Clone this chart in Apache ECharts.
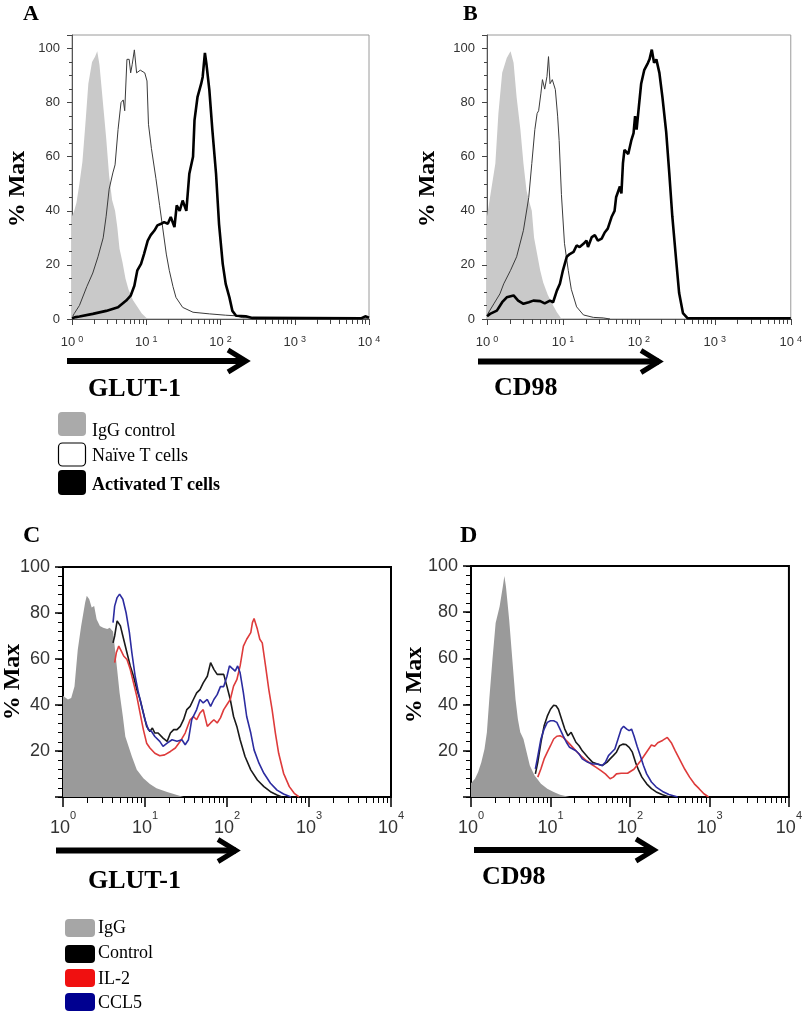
<!DOCTYPE html>
<html>
<head>
<meta charset="utf-8">
<script src="https://cdn.jsdelivr.net/npm/echarts@6/dist/echarts.min.js"></script>
<style>html,body{margin:0;padding:0;background:#fff}#main{width:805px;height:1012px}</style>
</head>
<body>
<div id="main"></div>
<script>
// x values are in decades (log10 of fluorescence), y values in % Max
var decadeExponents = ['0', '1', '2', '3', '4'];

// panel A: GLUT-1
var aIgG = [[0,38],[0.03,40],[0.06,43],[0.10,50],[0.14,58],[0.18,72],[0.22,87],[0.27,95],[0.31,97],[0.34,99],[0.37,94],[0.41,82],[0.46,67],[0.50,53],[0.54,44],[0.58,40],[0.61,34],[0.64,26],[0.68,21],[0.72,15],[0.76,11],[0.82,7],[0.88,4.5],[0.94,2],[1.0,0.5],[1.03,0]];
var aNaive = [[0.01,1],[0.03,2],[0.10,5],[0.20,12],[0.28,17],[0.35,23],[0.42,30],[0.46,38],[0.50,48],[0.55,54],[0.58,57],[0.62,70],[0.66,80],[0.69,81],[0.71,77],[0.74,96],[0.77,96],[0.79,91],[0.81,94],[0.84,99.5],[0.86,99],[0.87,91],[0.92,92],[0.98,91],[1.01,88],[1.03,72],[1.07,63],[1.13,52],[1.18,42],[1.22,34],[1.27,24],[1.31,18],[1.36,12],[1.40,8],[1.49,4.3],[1.63,2.5],[1.85,1.9],[2.07,1.4],[2.20,1.2],[2.30,0.5],[2.6,0.3],[4.0,0.3]];
var aActivated = [[0.0,0.3],[0.05,0.7],[0.10,0.9],[0.28,1.9],[0.46,3],[0.62,4.3],[0.73,6.8],[0.79,8.6],[0.84,12.3],[0.88,18],[0.93,20.4],[0.97,24],[1.02,29],[1.06,31],[1.11,32.7],[1.15,34.6],[1.20,35.2],[1.24,35.8],[1.29,35.2],[1.33,37.7],[1.38,34],[1.41,42],[1.45,40],[1.49,43.8],[1.54,40],[1.58,53.7],[1.63,60],[1.65,73.5],[1.69,82],[1.74,87],[1.76,89.5],[1.79,98.4],[1.81,94.4],[1.85,84.6],[1.89,70],[1.94,53.7],[1.98,35.2],[2.03,20.4],[2.07,13],[2.12,8],[2.16,3],[2.21,1.2],[2.34,1],[2.43,0.4],[3.9,0.3],[3.95,1],[4.0,0.5]];

// panel B: CD98
var bIgG = [[0,38],[0.04,45],[0.11,57.5],[0.15,76],[0.20,91],[0.26,96.5],[0.31,99],[0.35,94.7],[0.39,82],[0.44,70],[0.48,57.5],[0.52,47.6],[0.55,44],[0.59,40],[0.62,30],[0.66,24],[0.70,18],[0.74,13.5],[0.80,9],[0.86,5.5],[0.92,2.5],[0.96,0.9],[0.98,0]];
var bNaive = [[0.01,1.9],[0.09,5.6],[0.17,9.3],[0.22,13],[0.31,18],[0.39,23],[0.48,32.8],[0.55,45],[0.59,57.5],[0.63,70],[0.66,76],[0.68,77],[0.71,83.5],[0.73,88.5],[0.76,85],[0.79,89.7],[0.81,97],[0.83,87],[0.86,88.5],[0.90,84.8],[0.93,75],[0.95,66],[0.98,46],[1.02,28],[1.07,18],[1.11,11],[1.18,4.5],[1.27,1.5],[1.40,0.6],[1.53,0.4],[1.62,0]];
var bActivated = [[0.0,1],[0.04,1.9],[0.13,3.1],[0.20,6.2],[0.26,8],[0.35,8.7],[0.41,6.8],[0.48,5.6],[0.55,6.2],[0.61,6.8],[0.70,6.6],[0.76,5.8],[0.83,6.8],[0.87,6.2],[0.92,10.5],[0.96,13],[1.00,18],[1.05,23],[1.09,24],[1.14,24.8],[1.18,27.2],[1.22,26.6],[1.27,27.8],[1.31,29],[1.33,26.6],[1.38,30.3],[1.42,31],[1.46,29],[1.51,29.7],[1.55,32],[1.59,33.4],[1.64,37.7],[1.68,40],[1.70,45],[1.75,49],[1.77,46.4],[1.79,57.5],[1.81,62.5],[1.86,61],[1.90,66],[1.93,68.7],[1.95,75],[1.97,70],[2.00,78.6],[2.03,87],[2.07,92],[2.12,94.7],[2.14,96],[2.17,99.6],[2.20,94.7],[2.23,96],[2.27,91],[2.31,82],[2.36,69],[2.40,54],[2.44,38],[2.49,22],[2.53,9.6],[2.58,2.2],[2.64,0.3],[4.0,0.3]];

// panel C: GLUT-1 after treatment
var cIgG = [[0,44],[0.02,43.8],[0.06,42.4],[0.10,43],[0.14,48],[0.18,64],[0.22,74],[0.27,84.6],[0.29,87.5],[0.32,86],[0.35,82.4],[0.38,83],[0.41,77.3],[0.45,74.4],[0.49,73.6],[0.51,74.4],[0.54,73],[0.57,73.6],[0.61,72],[0.63,65.6],[0.66,55.5],[0.69,45.3],[0.73,35],[0.76,26.3],[0.80,22],[0.84,17.6],[0.90,11.8],[0.98,8.2],[1.06,5.7],[1.14,3.8],[1.27,2.2],[1.39,0.9],[1.47,0]];
var cControl = [[0.61,67],[0.63,70],[0.66,76.6],[0.68,77],[0.70,74.4],[0.73,70],[0.78,62.7],[0.82,57],[0.86,52.5],[0.90,46.7],[0.94,42.4],[0.98,36.5],[1.02,30.7],[1.06,28.5],[1.09,30],[1.12,27.8],[1.16,27.8],[1.22,25.6],[1.27,24.2],[1.31,27.8],[1.35,29.3],[1.39,29.3],[1.43,30.7],[1.47,33.6],[1.51,38],[1.55,39.4],[1.59,42.4],[1.63,45.3],[1.67,46.7],[1.71,49.6],[1.76,52.5],[1.80,58.4],[1.84,55.5],[1.88,53.3],[1.92,53.3],[1.96,53.3],[2.00,48],[2.04,42.4],[2.08,35],[2.12,30.7],[2.16,24.9],[2.22,17.6],[2.29,11.8],[2.37,7.4],[2.45,4.5],[2.53,2.3],[2.61,0.9],[2.67,0]];
var cIL2 = [[0.63,58.4],[0.65,62.7],[0.68,65.6],[0.71,63.5],[0.74,61.3],[0.78,59.8],[0.82,55.5],[0.86,49.6],[0.90,43.8],[0.94,36.5],[0.98,29.3],[1.02,23.4],[1.06,21.3],[1.12,19],[1.18,17.9],[1.24,18.3],[1.31,19.8],[1.37,21.3],[1.43,24.2],[1.49,27.8],[1.55,33.6],[1.59,35],[1.63,33.6],[1.67,36.5],[1.71,38],[1.76,30.7],[1.80,32.2],[1.84,33.6],[1.88,32.2],[1.92,34.4],[1.96,38],[2.00,40.2],[2.04,42.4],[2.08,48.2],[2.12,51],[2.16,57],[2.20,65.6],[2.24,68.6],[2.29,71.5],[2.31,75.8],[2.33,77.6],[2.37,73],[2.40,68.6],[2.43,67],[2.47,57],[2.51,46.7],[2.55,38],[2.59,27.8],[2.63,19],[2.69,10.3],[2.76,4.5],[2.82,1.6],[2.88,0]];
var cCCL5 = [[0.61,75.8],[0.63,83],[0.66,86.7],[0.69,88.2],[0.73,86],[0.77,80],[0.81,71.5],[0.84,62.7],[0.88,52.5],[0.92,45.3],[0.96,39.4],[1.00,33.6],[1.04,29.3],[1.08,28.5],[1.12,26.3],[1.18,24.2],[1.22,22],[1.27,23.4],[1.33,24.9],[1.39,24.2],[1.45,24.9],[1.49,22.7],[1.53,24.9],[1.57,33.6],[1.63,38],[1.67,42.4],[1.71,40.9],[1.76,42.4],[1.80,39.4],[1.84,42.4],[1.88,44.5],[1.92,48],[1.96,48],[2.00,52.5],[2.03,57],[2.06,56],[2.10,54.7],[2.13,57],[2.16,54],[2.20,45.3],[2.24,35],[2.29,27.8],[2.33,20.5],[2.39,14.7],[2.45,10.3],[2.53,6],[2.61,3],[2.69,1.3],[2.78,0]];

// panel D: CD98 after treatment
var dIgG = [[0,6],[0.01,6.5],[0.05,7.9],[0.09,10.8],[0.13,15],[0.17,20.8],[0.20,28],[0.23,42.3],[0.27,59.5],[0.31,75.3],[0.36,82.5],[0.40,91],[0.42,95.7],[0.44,91],[0.48,76.8],[0.52,59.5],[0.56,42.3],[0.59,33.7],[0.62,28],[0.66,25.1],[0.70,19.4],[0.74,13.6],[0.80,9.3],[0.88,5.7],[0.96,3.6],[1.04,2.2],[1.12,1],[1.24,0]];
var dControl = [[0.81,10],[0.84,15],[0.88,23.7],[0.92,30.8],[0.96,35],[1.00,38],[1.04,39.7],[1.07,39.5],[1.10,38],[1.14,33.7],[1.18,29.4],[1.22,26.5],[1.26,28],[1.28,28],[1.32,23.7],[1.36,22.2],[1.40,20],[1.47,17.2],[1.53,15],[1.59,14.3],[1.65,13.6],[1.71,15],[1.75,16.5],[1.79,17.9],[1.83,19.4],[1.87,22.2],[1.91,22.9],[1.95,22.7],[1.99,21.5],[2.03,19.4],[2.07,15],[2.11,11.5],[2.15,8.6],[2.21,5.7],[2.27,3.6],[2.33,2.2],[2.41,1],[2.49,0]];
var dIL2 = [[0.84,8.6],[0.88,12.2],[0.92,16.5],[0.96,19.4],[1.00,22.2],[1.04,25.1],[1.08,26.3],[1.12,26.5],[1.16,25.8],[1.20,24.4],[1.24,23],[1.28,21.5],[1.32,20],[1.38,17.9],[1.45,15.8],[1.51,14.3],[1.57,12.9],[1.63,11.5],[1.69,10],[1.75,7.9],[1.79,8.6],[1.83,10],[1.89,10.3],[1.97,10.3],[2.05,12],[2.13,15.5],[2.21,19.5],[2.27,22.5],[2.31,22],[2.35,23.5],[2.41,24.5],[2.47,25.8],[2.52,23.5],[2.57,20],[2.63,16],[2.69,12],[2.75,8.6],[2.81,5.7],[2.87,3.6],[2.93,1.4],[2.99,0]];
var dCCL5 = [[0.81,12.2],[0.84,17.6],[0.88,25.1],[0.92,29.4],[0.96,32.3],[1.00,33],[1.04,33],[1.08,32.3],[1.12,29.4],[1.16,26.5],[1.20,23.7],[1.24,21.5],[1.28,20.8],[1.32,20],[1.36,18.6],[1.40,16.5],[1.47,15],[1.53,14.3],[1.59,14.3],[1.65,13.6],[1.69,15],[1.73,17.9],[1.77,19.4],[1.81,20.8],[1.85,25.1],[1.89,29.4],[1.92,30.6],[1.96,29.4],[1.99,28.7],[2.02,29.4],[2.05,26.5],[2.09,22],[2.13,17.9],[2.17,13.6],[2.21,10],[2.27,6.5],[2.33,4.3],[2.41,2.4],[2.49,1.1],[2.60,0]];

var serif = '"Liberation Serif", "Times New Roman", serif';
var sans = '"Liberation Sans", Arial, sans-serif';
var narrow = '"Liberation Sans Narrow", "Arial Narrow", "Liberation Sans", sans-serif';

var myChart = echarts.init(document.getElementById('main'));

var boxes = [
  {left: 72, top: 35, width: 297, height: 284, top2: true},
  {left: 487, top: 35, width: 305, height: 284, top2: true},
  {left: 63, top: 567, width: 328, height: 230, top2: false},
  {left: 471, top: 566, width: 330, height: 231, top2: false}
];

var grid = [], xAxis = [], yAxis = [];
boxes.forEach(function (b, i) {
  var up = b.top2;
  var ink = up ? '#444' : '#000';
  grid.push({left: b.left, top: b.top, width: b.width, height: b.height, show: true,
    backgroundColor: 'transparent', borderColor: up ? '#9a9a9a' : '#000', borderWidth: up ? 1 : 2});
  // decade axis carrying the data and the major ticks
  xAxis.push({
    type: 'value', gridIndex: i, position: 'bottom', min: 0, max: 4, interval: 1,
    axisLine: {onZero: false, lineStyle: {color: up ? '#555' : '#000', width: up ? 1 : 2}},
    axisTick: {length: up ? 6 : 10, lineStyle: {color: ink, width: up ? 1 : 1.5}},
    splitLine: {show: false},
    axisLabel: {
      margin: up ? 16 : 13,
      formatter: function (v) { return '{b|10}{s|' + decadeExponents[v] + '}'; },
      rich: up ? {
        b: {fontFamily: sans, fontSize: 13, color: '#333', lineHeight: 14},
        s: {fontFamily: sans, fontSize: 9, color: '#333', lineHeight: 9, verticalAlign: 'top', padding: [0, 0, 0, 3]}
      } : {
        b: {fontFamily: narrow, fontSize: 18, color: '#333', lineHeight: 36},
        s: {fontFamily: narrow, fontSize: 11, color: '#333', lineHeight: 8, verticalAlign: 'top'}
      }
    }
  });
  // log axis over the same span, only for the 2..9 minor ticks
  xAxis.push({
    type: 'log', logBase: 10, gridIndex: i, position: 'bottom', min: 1, max: 10000,
    axisLine: {show: false, onZero: false}, axisLabel: {show: false}, axisTick: {show: false},
    splitLine: {show: false},
    minorTick: {show: true, splitNumber: 9, length: up ? 5 : 6, lineStyle: {color: ink, width: 1}}
  });
  yAxis.push({
    type: 'value', gridIndex: i, position: 'left', min: 0, max: up ? 105 : 100, interval: 20,
    axisLine: {show: true, onZero: false, lineStyle: {color: up ? '#555' : '#000', width: up ? 1 : 2}},
    axisTick: {show: true, length: up ? 5 : 8, lineStyle: {color: ink, width: up ? 1 : 1.5}},
    splitLine: {show: false},
    axisLabel: {
      margin: up ? 12 : 13,
      fontFamily: up ? sans : narrow, fontSize: up ? 13 : 18, color: '#333',
      formatter: function (v) {
        if (v % 20 !== 0) return '';
        if (!up && v === 0) return '';
        return String(v);
      }
    }
  });
  yAxis.push({
    type: 'value', gridIndex: i, position: 'left', min: 0, max: up ? 105 : 100, interval: up ? 5 : 4,
    axisLine: {show: false, onZero: false}, axisLabel: {show: false},
    axisTick: {show: true, length: up ? 3 : 5, lineStyle: {color: ink, width: 1}},
    splitLine: {show: false}
  });
});

function curve(name, data, g, color, width, fill) {
  var s = {
    name: name, type: 'line', data: data, xAxisIndex: 2 * g, yAxisIndex: 2 * g,
    symbol: 'none', showSymbol: false, smooth: false, silent: true, animation: false,
    lineStyle: {color: fill || color, width: fill ? 0 : width},
    z: fill ? 1 : 3
  };
  if (fill) s.areaStyle = {color: fill, opacity: 1};
  return s;
}

var series = [
  curve('IgG control', aIgG, 0, null, 0, '#c9c9c9'),
  curve('Naïve T cells', aNaive, 0, '#3a3a3a', 1),
  curve('Activated T cells', aActivated, 0, '#000', 2.6),
  curve('IgG control', bIgG, 1, null, 0, '#c9c9c9'),
  curve('Naïve T cells', bNaive, 1, '#3a3a3a', 1),
  curve('Activated T cells', bActivated, 1, '#000', 2.6),
  curve('IgG', cIgG, 2, null, 0, '#9a9a9a'),
  curve('Control', cControl, 2, '#1a1a1a', 1.6),
  curve('IL-2', cIL2, 2, '#de3b3b', 1.6),
  curve('CCL5', cCCL5, 2, '#2c2ca0', 1.6),
  curve('IgG', dIgG, 3, null, 0, '#9a9a9a'),
  curve('Control', dControl, 3, '#1a1a1a', 1.6),
  curve('IL-2', dIL2, 3, '#de3b3b', 1.6),
  curve('CCL5', dCCL5, 3, '#2c2ca0', 1.6)
];

function txt(x, y, s, size, opts) {
  opts = opts || {};
  return {
    type: 'text', x: x, y: y, rotation: opts.rot || 0, z: 10,
    style: {
      text: s, fill: '#000',
      font: (opts.bold ? 'bold ' : '') + size + 'px ' + serif,
      textAlign: opts.align || 'left', align: opts.align || 'left',
      textVerticalAlign: 'middle', verticalAlign: 'middle'
    }
  };
}
function arrow(x1, y, tip) {
  return {type: 'group', z: 10, children: [
    {type: 'line', shape: {x1: x1, y1: y, x2: tip - 4, y2: y}, style: {stroke: '#000', lineWidth: 6}},
    {type: 'polyline', shape: {points: [[tip - 22, y - 11], [tip - 4, y], [tip - 22, y + 11]]},
      style: {stroke: '#000', lineWidth: 5, fill: null}}
  ]};
}
function swatch(x, y, w, h, fill, stroke) {
  return {type: 'rect', z: 10, shape: {x: x, y: y, width: w, height: h, r: 4},
    style: {fill: fill, stroke: stroke || null, lineWidth: stroke ? 1.2 : 0}};
}

var graphic = [
  txt(23, 14, 'A', 22, {bold: true}),
  txt(463, 14, 'B', 22, {bold: true}),
  txt(23, 536, 'C', 24, {bold: true}),
  txt(460, 536, 'D', 24, {bold: true}),
  txt(18, 189, '% Max', 24, {bold: true, rot: Math.PI / 2, align: 'center'}),
  txt(428, 189, '% Max', 24, {bold: true, rot: Math.PI / 2, align: 'center'}),
  txt(13, 682, '% Max', 24, {bold: true, rot: Math.PI / 2, align: 'center'}),
  txt(415, 685, '% Max', 24, {bold: true, rot: Math.PI / 2, align: 'center'}),
  arrow(67, 361, 250),
  arrow(478, 361.5, 663),
  arrow(56, 850.5, 240),
  arrow(474, 850, 658),
  txt(88, 389, 'GLUT-1', 26, {bold: true}),
  txt(494, 388, 'CD98', 26, {bold: true}),
  txt(88, 881, 'GLUT-1', 26, {bold: true}),
  txt(482, 877, 'CD98', 26, {bold: true}),
  swatch(58, 412, 28, 24, '#aaaaaa'),
  swatch(58.5, 443, 27, 23, '#fff', '#000'),
  swatch(58, 470, 28, 25, '#000'),
  txt(92, 431, 'IgG control', 18),
  txt(92, 456, 'Naïve T cells', 18),
  txt(92, 485, 'Activated T cells', 18, {bold: true}),
  swatch(65, 919, 30, 18, '#a6a6a6'),
  swatch(65, 945, 30, 18, '#000'),
  swatch(65, 969, 30, 18, '#f01010'),
  swatch(65, 993, 30, 18, '#000090'),
  txt(98, 928, 'IgG', 18),
  txt(98, 953, 'Control', 18),
  txt(98, 979, 'IL-2', 18),
  txt(98, 1003, 'CCL5', 18)
];

var option = {
  animation: false,
  backgroundColor: '#fff',
  grid: grid,
  xAxis: xAxis,
  yAxis: yAxis,
  series: series,
  graphic: graphic
};

myChart.setOption(option);
</script>
</body>
</html>
